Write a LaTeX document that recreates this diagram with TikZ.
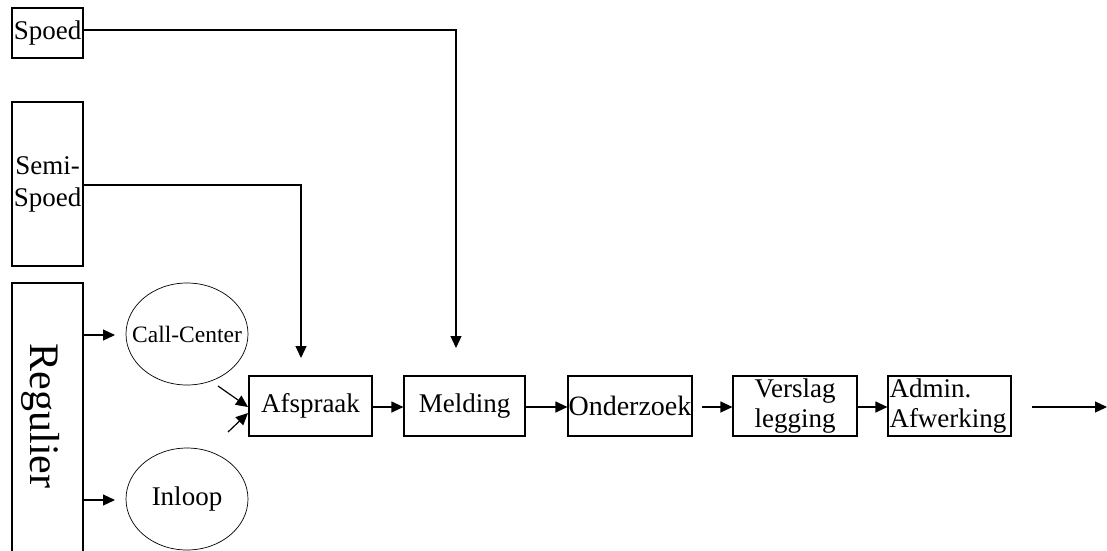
\documentclass[tikz,border=0pt]{standalone}
\usepackage{fontspec}
\setmainfont{Liberation Serif}
\usetikzlibrary{arrows.meta,shapes.geometric}
\begin{document}
\begin{tikzpicture}[x=1pt,y=-1pt,
  box/.style={draw,line width=1.2pt,inner sep=0pt,font=\fontsize{27}{30}\selectfont,align=center},
  oval/.style={draw,ellipse,line width=0.7pt,minimum width=122pt,minimum height=102pt,inner sep=0pt},
  arr/.style={line width=1.2pt,-{Triangle[length=12pt,width=11pt]}}]
\useasboundingbox (0,0) rectangle (1107,550);
\clip (0,0) rectangle (1107,550);
% left boxes
\node[box,minimum width=71pt,minimum height=50pt] (spoed) at (47.5,33) {Spoed};
\node[box,minimum width=71pt,minimum height=164pt,font=\fontsize{27}{32}\selectfont] (semi) at (47.5,184) {Semi-\\Spoed};
\node[draw,line width=1.2pt,minimum width=71pt,minimum height=290pt,inner sep=0pt] (reg) at (47.5,428) {};
\node[rotate=-90,font=\fontsize{42}{42}\selectfont,inner sep=0pt] (regt) at (41,416) {Regulier};
% ellipses
\node[oval,label={[font=\fontsize{23.5}{26}\selectfont]center:Call-Center}] (cc) at (187,334) {};
\node[oval,label={[font=\fontsize{27}{30}\selectfont]center:Inloop}] (inl) at (187,499) {};
% process boxes
\node[box,minimum width=123pt,minimum height=60pt] (af) at (310.5,406) {Afspraak};
\node[box,minimum width=121pt,minimum height=60pt] (mel) at (464.5,406) {Melding};
\node[box,minimum width=124pt,minimum height=60pt,font=\fontsize{28}{30}\selectfont] (ond) at (630,406) {Onderzoek};
\node[box,minimum width=124pt,minimum height=60pt] (ver) at (795,406) {Verslag\\legging};
\node[box,minimum width=123pt,minimum height=60pt,text width=120pt,align=left,inner xsep=1.5pt] (adm) at (949.5,406) {Admin.\\Afwerking};
% coordinates
\coordinate (ccin) at (115,335);
\coordinate (inlin) at (115,500);
\coordinate (s1) at (218,386);
\coordinate (s1e) at (248,407);
\coordinate (s2) at (228,432);
\coordinate (s2e) at (248,413);
\coordinate (spt) at (456,348);
\coordinate (smt) at (301,358);
\coordinate (ondout) at (702,407);
\coordinate (fin) at (1032,407);
\coordinate (fine) at (1107,407);
% connectors
\draw[arr] (reg.east |- ccin) -- (ccin);
\draw[arr] (reg.east |- inlin) -- (inlin);
\draw[arr] (s1) -- (s1e);
\draw[arr] (s2) -- (s2e);
\draw[arr] (spoed.east |- 0,30) -| (spt);
\draw[arr] (semi.east |- 0,185) -| (smt);
\draw[arr] (af.east |- 0,407) -- (mel.west |- 0,407);
\draw[arr] (mel.east |- 0,407) -- (ond.west |- 0,407);
\draw[arr] (ondout) -- (ver.west |- 0,407);
\draw[arr] (ver.east |- 0,407) -- (adm.west |- 0,407);
\draw[arr] (fin) -- (fine);
\end{tikzpicture}
\end{document}
